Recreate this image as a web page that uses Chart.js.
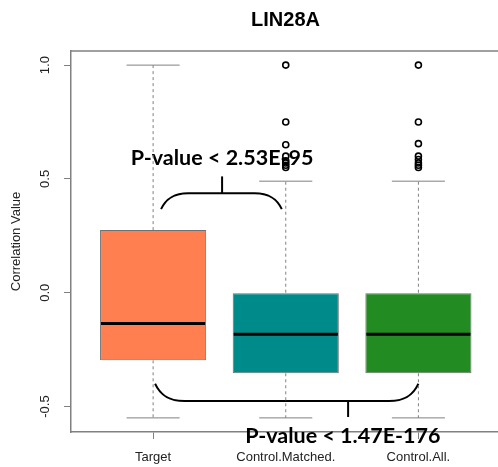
<!DOCTYPE html>
<html><head><meta charset="utf-8">
<script src="https://cdn.jsdelivr.net/npm/chart.js@4"></script>
<style>html,body{margin:0;padding:0;background:#fff;overflow:hidden}
#wrap{width:498px;height:467px;position:relative}</style>
</head><body><div id="wrap"><canvas id="c"></canvas></div>
<script>
// ---- data ----
const chartTitle = 'LIN28A';
const yAxisTitle = 'Correlation Value';
const categories = ['Target', 'Control.Matched.', 'Control.All.'];
const positions = [1, 2, 3];
const q1 = [-0.297, -0.354, -0.354];
const median = [-0.135, -0.183, -0.183];
const q3 = [0.275, 0.0, 0.0];
const whiskerLow = [-0.55, -0.55, -0.55];
const whiskerHigh = [1.0, 0.49, 0.49];
const outliersTarget = [];
const outliersMatched = [1.0, 0.75, 0.65, 0.60, 0.58, 0.57, 0.56, 0.55];
const outliersAll = [1.0, 0.75, 0.655, 0.60, 0.585, 0.57, 0.56, 0.55];
const boxColors = ['#FF7F50', '#008B8B', '#228B22'];
const yTicks = [-0.5, 0.0, 0.5, 1.0];
const pvalueTexts = ['P-value < 2.53E-95', 'P-value < 1.47E-176'];
// brace annotations in data units: [xLeft, xRight, yEnd, yBar, xTick, yTickEnd]
const brace1 = [1.06, 1.97, 0.367, 0.437, 1.52, 0.511];
const brace2 = [1.015, 3.0, -0.40, -0.476, 2.47, -0.546];
// text anchor (center x, baseline y) in data units
const textPos = [[1.52, 0.559], [2.43, -0.659]];

const allOutliers = [outliersTarget, outliersMatched, outliersAll];
const outlierPoints = [];
allOutliers.forEach((arr, i) => arr.forEach(v => outlierPoints.push({x: positions[i], y: v})));

const boxPlugin = {
  id: 'boxExtras',
  beforeDatasetsDraw(chart) {
    const {ctx} = chart;
    const xs = chart.scales.x, ys = chart.scales.y;
    ctx.save();
    ctx.strokeStyle = '#000';
    ctx.lineWidth = 2;
    [brace1, brace2].forEach(b => {
      const xl = xs.getPixelForValue(b[0]), xr = xs.getPixelForValue(b[1]);
      const ye = ys.getPixelForValue(b[2]), yb = ys.getPixelForValue(b[3]);
      const xt = xs.getPixelForValue(b[4]), yt = ys.getPixelForValue(b[5]);
      const r = Math.abs(yb - ye);
      const kx = 1.7 * r;
      ctx.beginPath();
      ctx.moveTo(xl, ye);
      ctx.bezierCurveTo(xl + 0.15 * kx, ye + (yb - ye) * 0.55, xl + 0.4 * kx, yb, xl + kx, yb);
      ctx.lineTo(xr - kx, yb);
      ctx.bezierCurveTo(xr - 0.4 * kx, yb, xr - 0.15 * kx, ye + (yb - ye) * 0.55, xr, ye);
      ctx.stroke();
      ctx.beginPath();
      ctx.moveTo(xt, yb);
      ctx.lineTo(xt, yt);
      ctx.stroke();
    });
    ctx.fillStyle = '#000';
    ctx.font = 'bold 21.5px Lato, "Open Sans", sans-serif';
    ctx.textAlign = 'center';
    ctx.textBaseline = 'alphabetic';
    pvalueTexts.forEach((t, i) => {
      ctx.fillText(t, xs.getPixelForValue(textPos[i][0]), ys.getPixelForValue(textPos[i][1]));
    });
    ctx.restore();
  },
  afterDatasetDraw(chart, args) {
    if (args.index !== 0) return;
    const {ctx} = chart;
    const xs = chart.scales.x, ys = chart.scales.y;
    const meta = chart.getDatasetMeta(0);
    ctx.save();
    positions.forEach((p, i) => {
      const bar = meta.data[i];
      const cx = xs.getPixelForValue(p);
      const half = bar.width / 2;
      const yq1 = ys.getPixelForValue(q1[i]), yq3 = ys.getPixelForValue(q3[i]);
      const ylo = ys.getPixelForValue(whiskerLow[i]), yhi = ys.getPixelForValue(whiskerHigh[i]);
      ctx.strokeStyle = '#808080';
      ctx.lineWidth = 1;
      ctx.setLineDash([3, 3]);
      ctx.beginPath();
      ctx.moveTo(cx, yq3); ctx.lineTo(cx, yhi);
      ctx.moveTo(cx, yq1); ctx.lineTo(cx, ylo);
      ctx.stroke();
      ctx.setLineDash([]);
      ctx.beginPath();
      ctx.moveTo(cx - half / 2, yhi); ctx.lineTo(cx + half / 2, yhi);
      ctx.moveTo(cx - half / 2, ylo); ctx.lineTo(cx + half / 2, ylo);
      ctx.stroke();
      const ym = ys.getPixelForValue(median[i]);
      ctx.strokeStyle = '#000';
      ctx.lineWidth = 3;
      ctx.beginPath();
      ctx.moveTo(cx - half + 1, ym); ctx.lineTo(cx + half - 1, ym);
      ctx.stroke();
    });
    ctx.restore();
  },
  afterDraw(chart) {
    const {ctx, chartArea: a} = chart;
    const ys = chart.scales.y;
    ctx.save();
    ctx.strokeStyle = '#808080';
    ctx.lineWidth = 1.5;
    ctx.beginPath();
    ctx.moveTo(a.left, a.top); ctx.lineTo(a.right, a.top);
    ctx.stroke();
    ctx.fillStyle = '#000';
    ctx.font = 'bold 20px "Liberation Sans", Arial, sans-serif';
    ctx.textAlign = 'center';
    ctx.textBaseline = 'middle';
    ctx.fillText(chartTitle, (a.left + a.right) / 2 + 1, 20);
    ctx.font = '13px "Liberation Sans", Arial, sans-serif';
    ctx.fillStyle = '#222';
    yTicks.forEach(v => {
      const y = ys.getPixelForValue(v);
      ctx.save();
      ctx.translate(a.left - 26, y);
      ctx.rotate(-Math.PI / 2);
      ctx.fillText(v.toFixed(1), 0, 0);
      ctx.restore();
    });
    ctx.restore();
  }
};

new Chart(document.getElementById('c'), {
  type: 'bar',
  data: {
    datasets: [
      {
        type: 'bar',
        data: positions.map((p, i) => ({x: p, y: [q1[i], q3[i]]})),
        backgroundColor: boxColors,
        borderColor: '#707070',
        borderWidth: 1,
        borderSkipped: false,
        barPercentage: 0.8,
        categoryPercentage: 1.0,
        order: 2
      },
      {
        type: 'scatter',
        data: outlierPoints,
        pointStyle: 'circle',
        pointRadius: 3,
        pointBorderWidth: 1.6,
        pointBorderColor: '#000',
        pointBackgroundColor: 'rgba(255,255,255,0)',
        order: 1
      }
    ]
  },
  options: {
    responsive: true,
    maintainAspectRatio: false,
    animation: false,
    events: [],
    layout: {autoPadding: false, padding: {top: 51, right: 0, left: 0, bottom: 0}},
    plugins: {legend: {display: false}, tooltip: {enabled: false}, title: {display: false}},
    scales: {
      x: {
        type: 'linear',
        min: 0.381,
        max: 3.60,
        offset: false,
        afterBuildTicks: s => { s.ticks = positions.map(v => ({value: v})); },
        afterFit: s => { s.height = 35; },
        ticks: {
          callback: v => categories[positions.indexOf(v)] || '',
          font: {size: 13, family: '"Liberation Sans", Arial, sans-serif'},
          color: '#222',
          padding: 11,
          maxRotation: 0,
          autoSkip: false
        },
        grid: {display: true, offset: false, drawOnChartArea: false, drawTicks: true, tickLength: 7, color: '#808080', lineWidth: 1},
        border: {display: true, color: '#808080', width: 1.5}
      },
      y: {
        type: 'linear',
        min: -0.612,
        max: 1.062,
        afterBuildTicks: s => { s.ticks = yTicks.map(v => ({value: v})); },
        afterFit: s => { s.width = 71; },
        ticks: {display: false},
        title: {display: true, text: yAxisTitle, font: {size: 13, family: '"Liberation Sans", Arial, sans-serif'}, color: '#222', padding: {top: 9, bottom: 0}},
        grid: {display: true, offset: false, drawOnChartArea: false, drawTicks: true, tickLength: 7, color: '#808080', lineWidth: 1},
        border: {display: true, color: '#808080', width: 1.5}
      }
    }
  },
  plugins: [boxPlugin]
});
</script></body></html>
